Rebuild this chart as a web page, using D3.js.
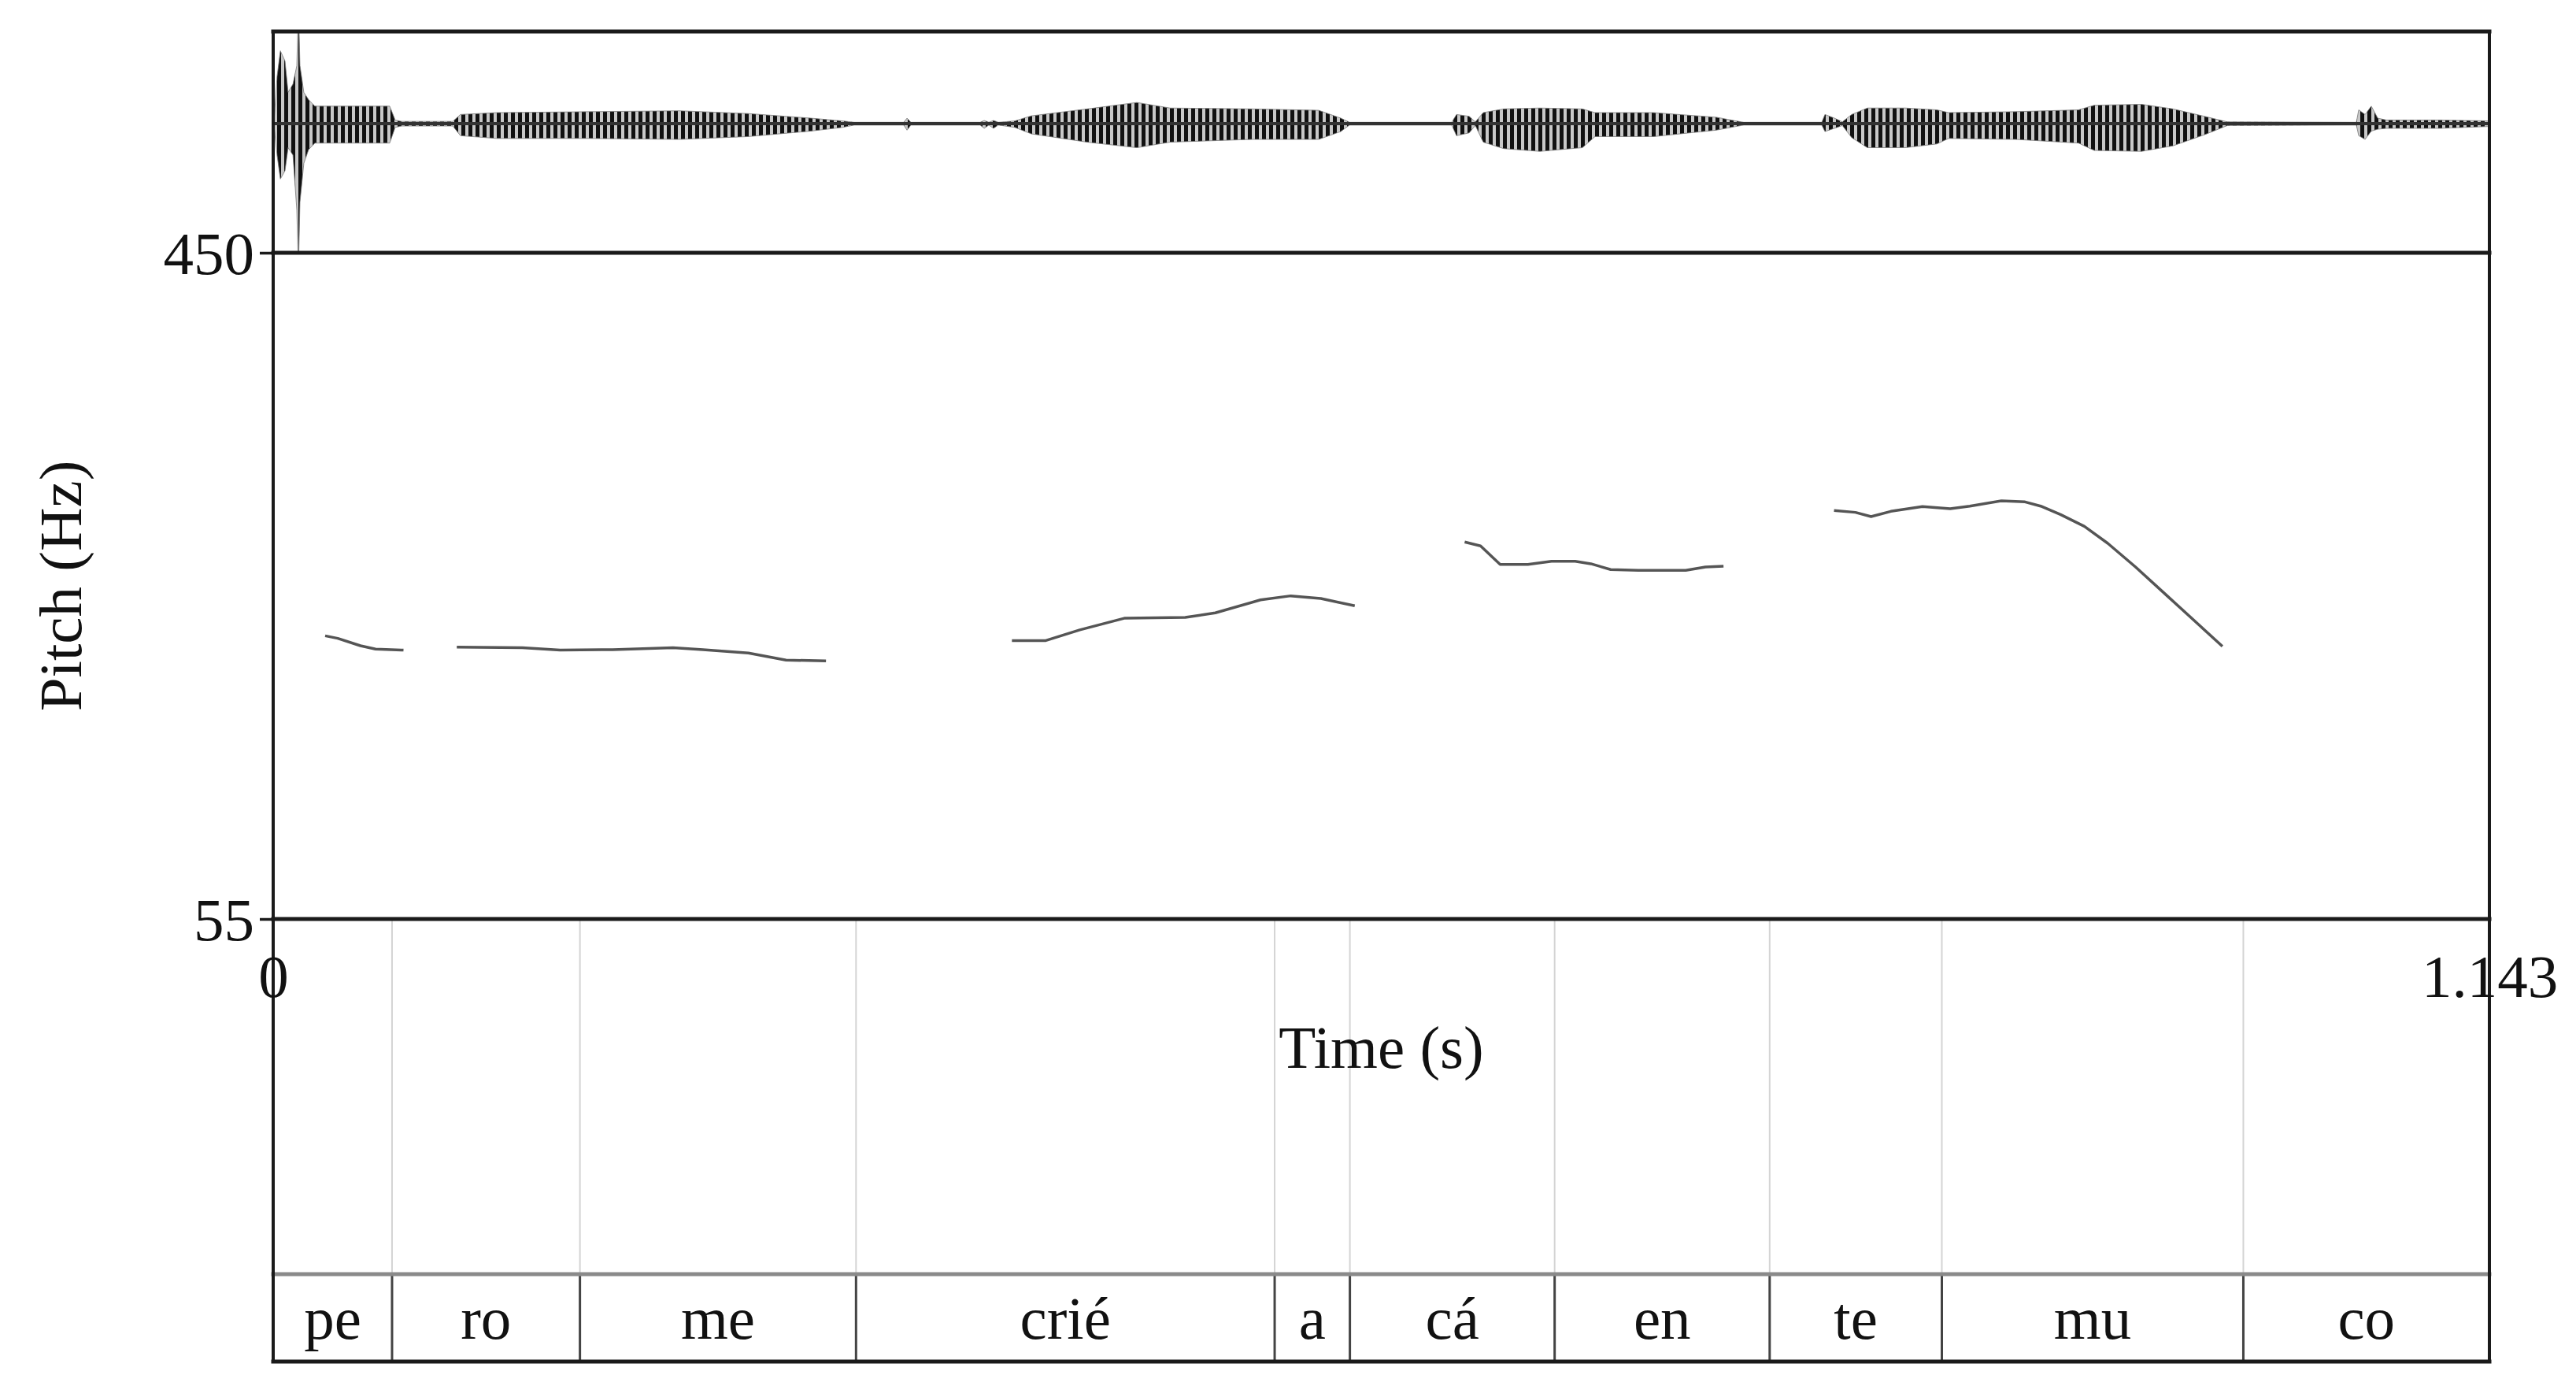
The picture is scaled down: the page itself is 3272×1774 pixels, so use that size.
<!DOCTYPE html>
<html>
<head>
<meta charset="utf-8">
<script src="https://cdn.jsdelivr.net/npm/d3@7"></script>
<style>
  html, body { margin: 0; padding: 0; background: #fff; }
  svg { display: block; }
  text { font-family: "Liberation Serif", "Times New Roman", serif; fill: #111; }
</style>
</head>
<body>
<svg id="chart" width="3272" height="1774"></svg>
<script>
// ---------------- DATA ----------------
const timeDomain = [0, 1.143];
const pitchDomain = [55, 450];
const pitchTickValues = [55, 450];
const timeTickValues = [0, 1.143];
const timeTickLabels = ["0", "1.143"];
const pitchAxisTitle = "Pitch (Hz)";
const timeAxisTitle = "Time (s)";

// Syllable tier
const syllables = ["pe", "ro", "me", "crié", "a", "cá", "en", "te", "mu", "co"];
const syllableBounds = [0, 0.0613, 0.1582, 0.3006, 0.5165, 0.5553, 0.6609, 0.7718, 0.8606, 1.0161, 1.143];

// Pitch contour (null = unvoiced gap)
const pitchTime = [
  0.0268, 0.0333, 0.0450, 0.0528, 0.0672, null,
  0.0947, 0.1285, 0.1480, 0.1751, 0.2062, 0.2217, 0.2451, 0.2645, 0.2851, null,
  0.3810, 0.3985, 0.4160, 0.4393, 0.4704, 0.4859, 0.5092, 0.5248, 0.5403, 0.5578, null,
  0.6145, 0.6227, 0.6328, 0.6471, 0.6593, 0.6715, 0.6796, 0.6898, 0.7041, 0.7285, 0.7387, 0.7480, null,
  0.8050, 0.8160, 0.8241, 0.8343, 0.8506, 0.8649, 0.8750, 0.8913, 0.9035, 0.9116, 0.9218, 0.9341,
  0.9462, 0.9605, 0.9768, 0.9931, 1.0053
];
const pitchHz = [
  222.9, 221.4, 217.0, 215.0, 214.4, null,
  216.2, 215.9, 214.4, 214.7, 215.8, 214.7, 212.7, 208.5, 208.0, null,
  220.1, 220.1, 226.4, 233.4, 233.8, 236.5, 244.2, 246.6, 245.0, 240.7, null,
  278.5, 276.2, 265.2, 265.2, 267.1, 267.1, 265.6, 262.2, 261.7, 261.7, 263.7, 264.2, null,
  297.2, 296.1, 293.6, 296.7, 299.5, 298.3, 299.8, 302.9, 302.3, 299.8, 294.8, 287.8,
  277.7, 263.7, 246.6, 229.5, 216.7
];

// Waveform envelope (relative amplitude, upper and lower excursions)
const waveTime = [
  0.0000, 0.0004, 0.0020, 0.0037, 0.0061, 0.0077, 0.0102, 0.0122, 0.0130, 0.0138, 0.0158, 0.0183, 0.0215,
  0.0601, 0.0629, 0.0662, 0.0926, 0.0966, 0.1153, 0.1636, 0.2095, 0.2448, 0.2773, 0.2936, 0.2997,
  0.3252, 0.3269, 0.3289, 0.3646, 0.3667, 0.3691, 0.3715, 0.3740, 0.3825, 0.3910, 0.4198, 0.4454,
  0.4625, 0.5051, 0.5392, 0.5506, 0.5551, 0.6078, 0.6103, 0.6168, 0.6200, 0.6241, 0.6346, 0.6533,
  0.6752, 0.6817, 0.7118, 0.7443, 0.7544, 0.7585, 0.7987, 0.8003, 0.8052, 0.8093, 0.8141, 0.8222,
  0.8417, 0.8580, 0.8641, 0.8986, 0.9311, 0.9392, 0.9636, 0.9798, 0.9960, 1.0078, 1.0744, 1.0756,
  1.0789, 1.0821, 1.0854, 1.0898, 1.1178, 1.1430
];
const waveMax = [
  0.015, 0.02, 0.51, 0.79, 0.68, 0.34, 0.43, 0.63, 1.30, 0.63, 0.34, 0.26, 0.19,
  0.19, 0.04, 0.025, 0.025, 0.10, 0.12, 0.13, 0.14, 0.11, 0.06, 0.03, 0.015,
  0.015, 0.06, 0.015, 0.015, 0.035, 0.015, 0.035, 0.015, 0.03, 0.085, 0.16, 0.23,
  0.17, 0.16, 0.145, 0.06, 0.015, 0.015, 0.10, 0.08, 0.02, 0.12, 0.16, 0.17,
  0.16, 0.12, 0.12, 0.07, 0.03, 0.015, 0.015, 0.10, 0.06, 0.02, 0.10, 0.17,
  0.17, 0.15, 0.12, 0.13, 0.15, 0.20, 0.21, 0.16, 0.08, 0.02, 0.015, 0.15,
  0.10, 0.19, 0.06, 0.04, 0.04, 0.03
];
const waveMin = [
  -0.015, -0.02, -0.34, -0.60, -0.51, -0.26, -0.34, -0.94, -1.60, -0.85, -0.43, -0.28, -0.21,
  -0.21, -0.04, -0.025, -0.025, -0.13, -0.16, -0.16, -0.17, -0.14, -0.08, -0.04, -0.015,
  -0.015, -0.07, -0.015, -0.015, -0.05, -0.015, -0.05, -0.015, -0.04, -0.11, -0.20, -0.26,
  -0.20, -0.17, -0.17, -0.085, -0.015, -0.015, -0.13, -0.10, -0.02, -0.20, -0.27, -0.30,
  -0.26, -0.14, -0.14, -0.07, -0.03, -0.015, -0.015, -0.085, -0.05, -0.02, -0.15, -0.26,
  -0.26, -0.22, -0.16, -0.17, -0.21, -0.29, -0.30, -0.24, -0.12, -0.02, -0.015, -0.13,
  -0.17, -0.08, -0.06, -0.05, -0.05, -0.03
];
const waveDomain = [-1.4, 1.0];

// ---------------- LAYOUT ----------------
const L = 347, R = 3162;
const waveTop = 40, waveBottom = 321;
const pitchTop = 321, pitchBottom = 1167;
const tierTop = 1618, tierBottom = 1729;
const fontSize = 77;

const svg = d3.select("#chart");
svg.append("rect").attr("width", 3272).attr("height", 1774).attr("fill", "#fff");

const x = d3.scaleLinear().domain(timeDomain).range([L, R]);
const yPitch = d3.scaleLinear().domain(pitchDomain).range([pitchBottom, pitchTop]);
const yWave = d3.scaleLinear().domain(waveDomain).range([waveBottom, waveTop]);

// stripes pattern for waveform
const defs = svg.append("defs");
const pat = defs.append("pattern").attr("id", "stripes")
  .attr("patternUnits", "userSpaceOnUse").attr("width", 9).attr("height", 10);
pat.append("rect").attr("width", 9).attr("height", 10).attr("fill", "#c8c8c8");
pat.append("rect").attr("x", 1).attr("width", 5).attr("height", 10).attr("fill", "#111");
defs.append("clipPath").attr("id", "waveClip")
  .append("rect").attr("x", L).attr("y", waveTop).attr("width", R - L).attr("height", waveBottom - waveTop);

// ---------------- WAVEFORM ----------------
const waveData = waveTime.map((t, i) => ({ t, hi: waveMax[i], lo: waveMin[i] }));
const area = d3.area()
  .x(d => x(d.t))
  .y0(d => yWave(d.lo))
  .y1(d => yWave(d.hi))
  .curve(d3.curveLinear);
const gw = svg.append("g").attr("clip-path", "url(#waveClip)");
gw.append("path")
  .datum(waveData)
  .attr("d", area)
  .attr("fill", "url(#stripes)")
  .attr("stroke", "#777")
  .attr("stroke-width", 0.8);
gw.append("line")
  .attr("x1", L).attr("x2", R)
  .attr("y1", yWave(0)).attr("y2", yWave(0))
  .attr("stroke", "#333").attr("stroke-width", 4);

// ---------------- BOUNDARIES ----------------
const innerBounds = syllableBounds.slice(1, -1);
svg.append("g").selectAll("line.light")
  .data(innerBounds).join("line")
  .attr("x1", d => x(d)).attr("x2", d => x(d))
  .attr("y1", pitchBottom).attr("y2", tierTop)
  .attr("stroke", "#d4d4d4").attr("stroke-width", 2);
svg.append("g").selectAll("line.dark")
  .data(innerBounds).join("line")
  .attr("x1", d => x(d)).attr("x2", d => x(d))
  .attr("y1", tierTop).attr("y2", tierBottom)
  .attr("stroke", "#444").attr("stroke-width", 3);

// syllable labels
const sylData = syllables.map((s, i) => ({ s, mid: (syllableBounds[i] + syllableBounds[i + 1]) / 2 }));
svg.append("g").selectAll("text")
  .data(sylData).join("text")
  .attr("x", d => x(d.mid))
  .attr("y", 1700)
  .attr("text-anchor", "middle")
  .attr("font-size", fontSize)
  .text(d => d.s);

// ---------------- PITCH ----------------
const pitchData = pitchTime.map((t, i) => ({ t, f: pitchHz[i] }));
const line = d3.line()
  .defined(d => d.t !== null && d.f !== null)
  .x(d => x(d.t))
  .y(d => yPitch(d.f));
svg.append("path")
  .datum(pitchData)
  .attr("d", line)
  .attr("fill", "none")
  .attr("stroke", "#555")
  .attr("stroke-width", 3.5)
  .attr("stroke-linejoin", "round");

// ---------------- FRAME ----------------
const frame = svg.append("g").attr("stroke-linecap", "square");
[waveTop, pitchTop, pitchBottom, tierBottom].forEach(yy => {
  frame.append("line").attr("x1", L).attr("x2", R).attr("y1", yy).attr("y2", yy)
    .attr("stroke", "#1a1a1a").attr("stroke-width", 5);
});
frame.append("line").attr("x1", L).attr("x2", R).attr("y1", tierTop).attr("y2", tierTop)
  .attr("stroke", "#8a8a8a").attr("stroke-width", 5);
[L, R].forEach(xx => {
  frame.append("line").attr("x1", xx).attr("x2", xx).attr("y1", waveTop).attr("y2", tierBottom)
    .attr("stroke", "#1a1a1a").attr("stroke-width", 4);
});

// ---------------- AXES ----------------
const yAxis = d3.axisLeft(yPitch).tickValues(pitchTickValues).tickSize(17).tickPadding(7).tickFormat(d3.format("d"));
const gy = svg.append("g").attr("transform", `translate(${L},0)`).call(yAxis);
gy.select(".domain").remove();
gy.selectAll(".tick line").attr("stroke", "#1a1a1a").attr("stroke-width", 3.5);
gy.selectAll(".tick text").attr("font-size", fontSize).attr("font-family", "Liberation Serif").attr("fill", "#111").attr("dy", "0.34em");

const xAxis = d3.axisBottom(x).tickValues(timeTickValues).tickSize(0).tickPadding(44)
  .tickFormat((d, i) => timeTickLabels[i]);
const gx = svg.append("g").attr("transform", `translate(0,${pitchBottom})`).call(xAxis);
gx.select(".domain").remove();
gx.selectAll(".tick text").attr("font-size", fontSize).attr("font-family", "Liberation Serif").attr("fill", "#111");

// axis titles
svg.append("text")
  .attr("transform", `translate(77,${(pitchTop + pitchBottom) / 2}) rotate(-90)`)
  .attr("text-anchor", "middle")
  .attr("dominant-baseline", "central")
  .attr("font-size", fontSize)
  .text(pitchAxisTitle);
svg.append("text")
  .attr("x", (L + R) / 2)
  .attr("y", 1356)
  .attr("text-anchor", "middle")
  .attr("font-size", fontSize)
  .text(timeAxisTitle);
</script>
</body>
</html>
